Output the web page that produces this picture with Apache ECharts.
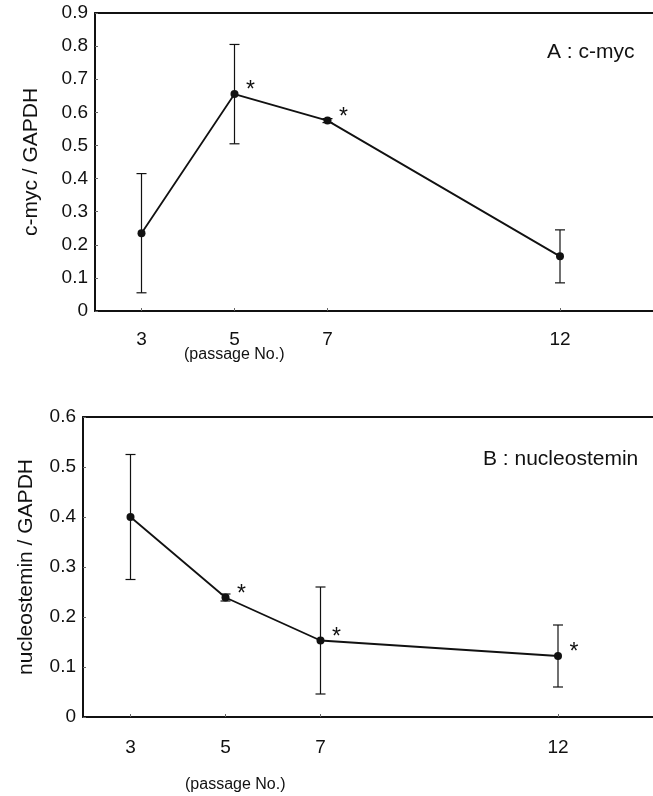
<!DOCTYPE html>
<html lang="en">
  <head>
    <meta charset="UTF-8" />
    <title>c-myc / nucleostemin vs passage</title>
    <script src="https://cdn.jsdelivr.net/npm/echarts@6/dist/echarts.min.js"></script>
    <style>
      html, body { margin: 0; padding: 0; background: #fff; }
      #main { width: 653px; height: 796px; }
    </style>
  </head>
  <body>
    <div id="main"></div>
    <script type="text/javascript">
      // data
      const passages = [3, 5, 7, 12];
      const xTicks = [3, 5, 7, 12];
      const mycMean = [0.235, 0.655, 0.575, 0.165];
      const mycErr = [0.18, 0.15, 0.006, 0.08];
      const mycSig = [false, true, true, false];
      const nsMean = [0.40, 0.239, 0.153, 0.122];
      const nsErr = [0.125, 0.007, 0.107, 0.062];
      const nsSig = [false, true, true, true];

      const font = "'Liberation Sans', Arial, sans-serif";
      const black = "#111";

      var myChart = echarts.init(document.getElementById("main"));

      function lineData(mean, sig) {
        return passages.map(function (p, i) {
          return {
            value: [p, mean[i]],
            label: { show: sig[i] }
          };
        });
      }
      function errData(mean, err) {
        return passages.map(function (p, i) {
          return [p, mean[i] - err[i], mean[i] + err[i]];
        });
      }
      // error bars with caps
      function renderErr(params, api) {
        var x = api.value(0);
        var lo = api.coord([x, api.value(1)]);
        var hi = api.coord([x, api.value(2)]);
        var w = 5;
        var st = { stroke: black, lineWidth: 1.2 };
        return {
          type: "group",
          children: [
            { type: "line", shape: { x1: hi[0], y1: hi[1], x2: lo[0], y2: lo[1] }, style: st },
            { type: "line", shape: { x1: hi[0] - w, y1: hi[1], x2: hi[0] + w, y2: hi[1] }, style: st },
            { type: "line", shape: { x1: lo[0] - w, y1: lo[1], x2: lo[0] + w, y2: lo[1] }, style: st }
          ]
        };
      }

      function xAxisBottom(grid) {
        return {
          type: "value", gridIndex: grid, min: 2, max: 14,
          axisLine: { lineStyle: { color: black, width: 2 } },
          axisTick: { inside: true, length: 3, customValues: xTicks, lineStyle: { color: "#666" } },
          axisLabel: { customValues: xTicks, color: black, fontSize: 19, fontFamily: font, margin: grid === 0 ? 19 : 21 },
          splitLine: { show: false }
        };
      }
      function xAxisTop(grid) {
        return {
          type: "value", gridIndex: grid, min: 2, max: 14, position: "top",
          axisLine: { show: true, lineStyle: { color: black, width: 2 } },
          axisTick: { show: false }, axisLabel: { show: false }, splitLine: { show: false }
        };
      }
      function yAxis(grid, max, name, gap) {
        return {
          type: "value", gridIndex: grid, min: 0, max: max, interval: 0.1,
          name: name, nameLocation: "middle", nameGap: gap, nameRotate: 90,
          nameTextStyle: { color: black, fontSize: 21, fontFamily: font },
          axisLine: { show: true, lineStyle: { color: black, width: 2 } },
          axisTick: { show: true, inside: true, length: 3, lineStyle: { color: "#666" } },
          axisLabel: { color: black, fontSize: 19, fontFamily: font, margin: 7 },
          splitLine: { show: false }
        };
      }
      function starLabel() {
        return {
          formatter: "*", position: "inside", offset: [16, -3],
          color: black, fontSize: 23, fontFamily: font
        };
      }

      var option = {
        animation: false,
        backgroundColor: "#fff",
        title: [
          { text: "A : c-myc", left: 542, top: 37, textStyle: { color: black, fontSize: 21, fontWeight: "normal", fontFamily: font } },
          { text: "B : nucleostemin", left: 478, top: 444, textStyle: { color: black, fontSize: 21, fontWeight: "normal", fontFamily: font } },
          { text: "(passage No.)", left: 179, top: 342, textStyle: { color: black, fontSize: 16, fontWeight: "normal", fontFamily: font } },
          { text: "(passage No.)", left: 180, top: 772, textStyle: { color: black, fontSize: 16, fontWeight: "normal", fontFamily: font } }
        ],
        grid: [
          { left: 95, right: 0, top: 13, height: 298 },
          { left: 83, right: 0, top: 417, height: 300 }
        ],
        xAxis: [xAxisBottom(0), xAxisTop(0), xAxisBottom(1), xAxisTop(1)],
        yAxis: [yAxis(0, 0.9, "c-myc / GAPDH", 53), yAxis(1, 0.6, "nucleostemin / GAPDH", 46)],
        series: [
          {
            name: "c-myc err", type: "custom", xAxisIndex: 0, yAxisIndex: 0,
            renderItem: renderErr, data: errData(mycMean, mycErr), z: 2
          },
          {
            name: "c-myc", type: "line", xAxisIndex: 0, yAxisIndex: 0,
            data: lineData(mycMean, mycSig),
            symbol: "circle", symbolSize: 8,
            itemStyle: { color: black },
            lineStyle: { color: black, width: 1.8 },
            label: starLabel(), z: 3
          },
          {
            name: "nucleostemin err", type: "custom", xAxisIndex: 2, yAxisIndex: 1,
            renderItem: renderErr, data: errData(nsMean, nsErr), z: 2
          },
          {
            name: "nucleostemin", type: "line", xAxisIndex: 2, yAxisIndex: 1,
            data: lineData(nsMean, nsSig),
            symbol: "circle", symbolSize: 8,
            itemStyle: { color: black },
            lineStyle: { color: black, width: 1.8 },
            label: starLabel(), z: 3
          }
        ]
      };
      myChart.setOption(option);

      window.onresize = function () {
        myChart.resize();
      };
    </script>
  </body>
</html>
